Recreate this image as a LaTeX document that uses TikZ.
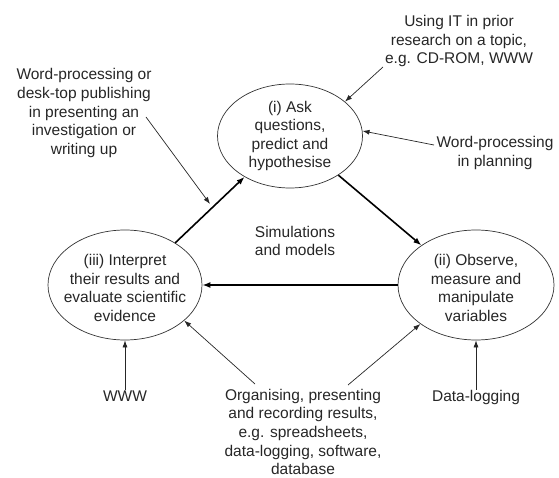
\documentclass[tikz,border=0pt]{standalone}
\usepackage{fontspec}
\setmainfont{Liberation Sans}
\usetikzlibrary{shapes.geometric,arrows.meta}
\begin{document}
\begin{tikzpicture}[x=1pt,y=-1pt,
  ell/.style={draw=black!80,line width=0.7pt,ellipse,inner sep=0pt},
  lbl/.style={align=center,inner sep=0pt,text=black!85,font=\fontsize{15.5}{18.6}\selectfont},
  thin/.style={draw=black!85,line width=0.7pt,-{Latex[length=7pt,width=5pt]}},
  thick/.style={draw=black,line width=1.6pt,-{Latex[length=8pt,width=6pt]}}]
\useasboundingbox (0,0) rectangle (559,478);
% ellipses
\node[ell,minimum width=145pt,minimum height=104pt,
  label={[lbl]center:{(i) Ask\\questions,\\predict and\\hypothesise}}] (i) at (290,136) {};
\node[ell,minimum width=154pt,minimum height=110pt,
  label={[lbl,yshift=-3pt]center:{(iii) Interpret\\their results and\\evaluate scientific\\evidence}}] (iii) at (125,285) {};
\node[ell,minimum width=156pt,minimum height=110pt,
  label={[lbl,yshift=-3pt]center:{(ii) Observe,\\measure and\\manipulate\\variables}}] (ii) at (476,285) {};
% texts
\node[lbl] (dtp) at (84,113) {Word-processing or\\desk-top publishing\\in presenting an\\investigation or\\writing up};
\node[lbl] (usit) at (459,41) {Using IT in prior\\research on a topic,\\e.g. CD-ROM, WWW};
\node[lbl] (plan) at (495,153) {Word-processing\\in planning};
\node[lbl] (sim) at (295,241) {Simulations\\and models};
\node[lbl] (www) at (125,396) {WWW};
\node[lbl] (org) at (303,432) {Organising, presenting\\and recording results,\\e.g. spreadsheets,\\data-logging, software,\\database};
\node[lbl] (dlog) at (476,397) {Data-logging};
% main cycle
\draw[thick] (iii.40) -- (i.222);
\draw[thick] (i.-39) -- (ii.144);
\draw[thick] (ii) -- (iii);
% helper coordinates
\coordinate (dtpS) at (146,117);
\coordinate (dtpE) at (210,204);
\coordinate (usitS) at (383,67);
\coordinate (planS) at (434,145);
\coordinate (orgA) at (255,384);
\coordinate (orgB) at (348,385);
% thin arrows
\draw[thin] (dtpS) -- (dtpE);
\draw[thin] (usitS) -- (i.32);
\draw[thin] (planS) -- (i.4);
\draw[thin] (www) -- (iii);
\draw[thin] (orgA) -- (iii.-31);
\draw[thin] (orgB) -- (ii.215);
\draw[thin] (dlog) -- (ii);
\end{tikzpicture}
\end{document}
